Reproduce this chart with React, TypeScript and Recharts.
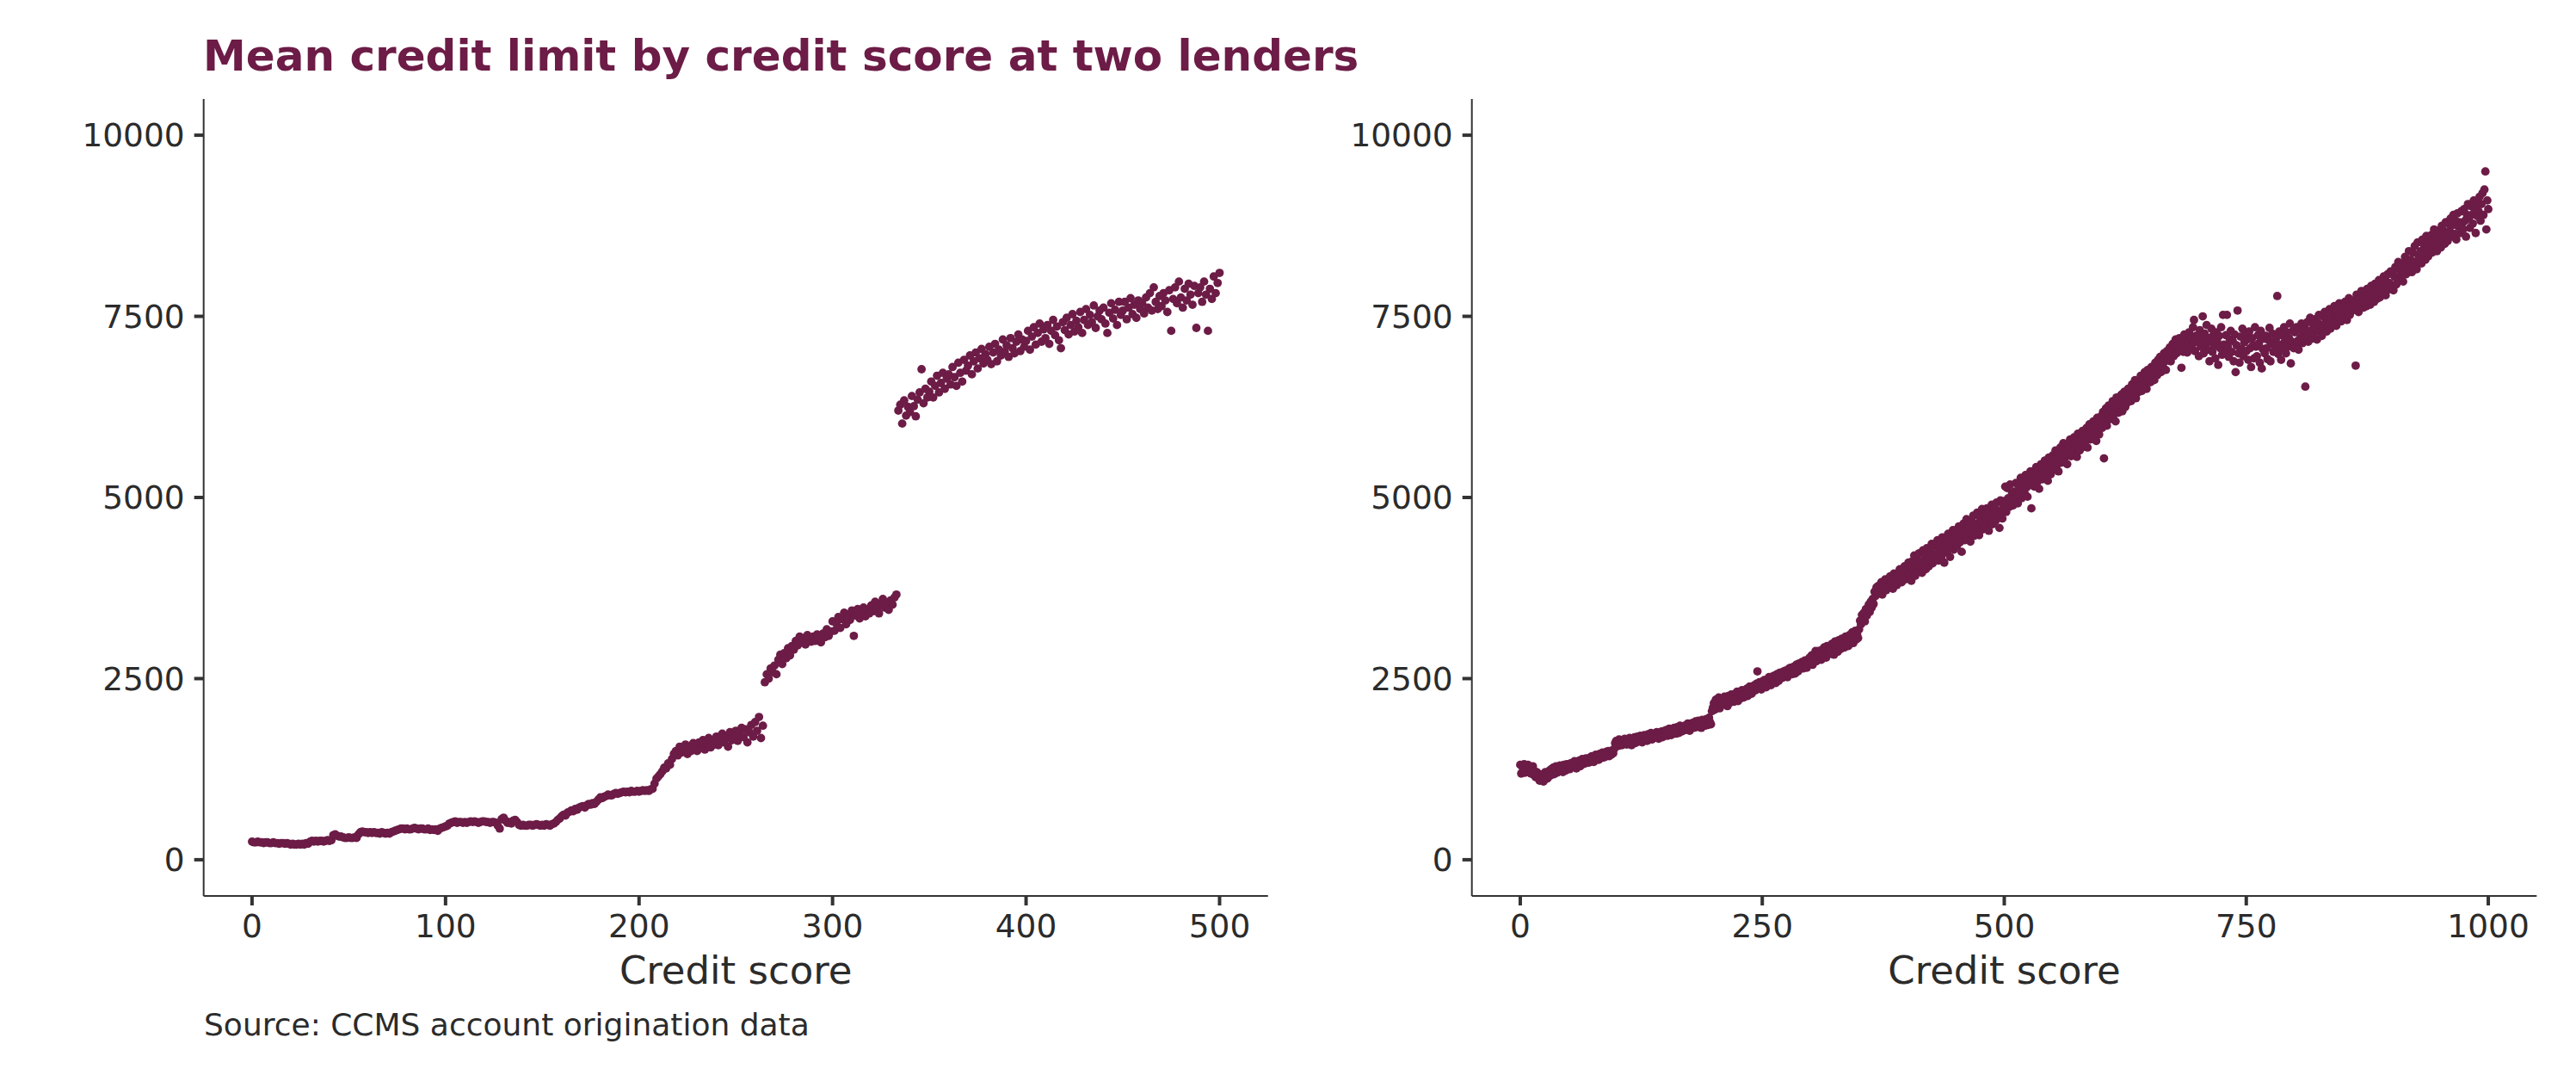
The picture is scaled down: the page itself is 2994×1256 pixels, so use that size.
import { ScatterChart, Scatter, XAxis, YAxis } from "recharts";

const DOT = "#6C1C46";
const INK = "#2b2b2b";
const LINE = "#333333";
const FONT = "'DejaVu Sans', Verdana, sans-serif";

const TITLE = "Mean credit limit by credit score at two lenders";
const AXIS_TITLE = "Credit score";
const CAPTION = "Source: CCMS account origination data";

const leftTicksX = [0, 100, 200, 300, 400, 500];
const rightTicksX = [0, 250, 500, 750, 1000];
const ticksY = [0, 2500, 5000, 7500, 10000];

// lender A: mean limit for scores 0..500, one value per score
const leftLimits000 = [
  250, 240, 240, 250, 240, 240, 230, 240, 240, 230,
  230, 240, 230, 230, 220, 230, 230, 220, 230, 220,
  210, 220, 210, 210, 220, 210, 220, 210, 230, 220,
  250, 260, 250, 260, 250, 260, 260, 250, 260, 270,
  260, 270, 340, 350, 330, 320, 320, 310, 300, 300,
  310, 300, 300, 310, 300, 350, 380, 390, 380, 380,
  370, 380, 370, 380, 370, 370, 360, 380, 370, 360,
  370, 360, 380, 390, 400, 410, 420, 430, 430, 420,
  430, 420, 420, 430, 440, 430, 420, 430, 430, 420,
  420, 430, 410, 420, 410, 420, 400, 430, 440, 450,
];
const leftLimits100 = [
  460, 470, 500, 510, 520, 530, 510, 520, 520, 510,
  520, 510, 520, 530, 520, 530, 520, 510, 520, 530,
  530, 520, 520, 510, 520, 520, 510, 470, 430, 560,
  580, 540, 510, 520, 500, 540, 550, 520, 480, 470,
  480, 470, 470, 480, 480, 470, 480, 490, 480, 470,
  480, 470, 490, 480, 470, 490, 500, 520, 550, 570,
  600, 620, 610, 650, 660, 680, 670, 700, 690, 720,
  730, 740, 720, 750, 770, 760, 780, 770, 800, 830,
  860, 850, 870, 880, 900, 890, 890, 910, 920, 910,
  920, 930, 940, 930, 940, 930, 950, 940, 940, 950,
];
const leftLimits200 = [
  940, 950, 960, 950, 960, 950, 970, 980, 1050, 1120,
  1150, 1180, 1220, 1270, 1260, 1330, 1310, 1390, 1460, 1500,
  1440, 1560, 1480, 1520, 1590, 1460, 1550, 1500, 1610, 1530,
  1500, 1620, 1560, 1650, 1520, 1600, 1680, 1550, 1640, 1590,
  1700, 1580, 1660, 1740, 1620, 1690, 1560, 1760, 1650, 1720,
  1780, 1640, 1740, 1820, 1690, 1800, 1620, 1760, 1860, 1700,
  1900, 1780, 1970, 1680, 1850, 2450, 2560, 2500, 2640, 2590,
  2680, 2560, 2760, 2830, 2700, 2850, 2780, 2920, 2820, 2950,
  2900, 3020, 2960, 3080, 3000, 3060, 2970, 3100, 3040, 3010,
  3080, 3020, 3110, 3050, 3000, 3120, 3070, 3180, 3090, 3150,
];
const leftLimits300 = [
  3290, 3160, 3260, 3350, 3200, 3320, 3410, 3250, 3380, 3310,
  3440, 3090, 3370, 3460, 3330, 3420, 3480, 3360, 3450, 3400,
  3510, 3430, 3560, 3470, 3400, 3540, 3600, 3480, 3530, 3450,
  3580, 3520, 3620, 3660, 6200, 6280, 6020, 6340, 6130, 6250,
  6180, 6400, 6260, 6120, 6350, 6450, 6770, 6300, 6500, 6380,
  6460, 6600, 6380, 6540, 6680, 6450, 6580, 6720, 6500, 6640,
  6700, 6560, 6800, 6660, 6540, 6860, 6720, 6600, 6900, 6750,
  6820, 6960, 6700, 6880, 7000, 6780, 6920, 7050, 6850, 6980,
  6900, 7080, 6840, 7000, 7120, 6880, 7040, 6960, 7180, 7010,
  7100, 6940, 7200, 7060, 6990, 7150, 7250, 7020, 7180, 7080,
];
const leftLimits400 = [
  7160, 7300, 7040, 7220, 7350, 7110, 7270, 7400, 7150, 7320,
  7200, 7380, 7120, 7300, 7450, 7240, 7360, 7170, 7060, 7420,
  7310, 7480, 7250, 7380, 7530, 7290, 7440, 7350, 7560, 7270,
  7450, 7600, 7380, 7520, 7420, 7650, 7340, 7500, 7580, 7460,
  7620, 7400, 7270, 7550, 7680, 7470, 7590, 7380, 7700, 7520,
  7580, 7700, 7460, 7620, 7750, 7530, 7660, 7480, 7720, 7600,
  7680, 7540, 7760, 7620, 7820, 7580, 7900, 7700, 7600, 7780,
  7640, 7820, 7720, 7560, 7860, 7300, 7740, 7900, 7680, 7980,
  7760, 7620, 7880, 7720, 7950, 7800, 7660, 7920, 7340, 7820,
  7900, 7700, 7980, 7800, 7300, 7880, 7740, 8050, 7820, 7960,
  8100,
];

// lender B: mean limit for scores 0..1000, one value per score
const rightLimits000 = [
  1310, 1190, 1290, 1250, 1320, 1200, 1300, 1260, 1310, 1220,
  1280, 1190, 1250, 1290, 1170, 1220, 1140, 1210, 1160, 1120,
  1090, 1180, 1110, 1170, 1080, 1140, 1210, 1170, 1120, 1200,
  1230, 1160, 1250, 1190, 1270, 1180, 1240, 1290, 1200, 1260,
  1220, 1300, 1240, 1280, 1210, 1310, 1260, 1230, 1320, 1280,
  1300, 1250, 1330, 1280, 1340, 1280, 1360, 1300, 1260, 1350,
  1320, 1370, 1290, 1350, 1390, 1320, 1380, 1330, 1400, 1360,
  1380, 1340, 1410, 1370, 1430, 1380, 1350, 1420, 1450, 1390,
  1420, 1380, 1460, 1400, 1450, 1480, 1410, 1470, 1420, 1490,
  1450, 1500, 1430, 1480, 1450, 1510, 1470, 1530, 1610, 1640,
];
const rightLimits100 = [
  1620, 1570, 1660, 1600, 1640, 1580, 1650, 1600, 1670, 1610,
  1590, 1660, 1610, 1680, 1620, 1580, 1670, 1630, 1690, 1610,
  1650, 1700, 1630, 1680, 1710, 1650, 1620, 1690, 1720, 1660,
  1690, 1640, 1730, 1670, 1710, 1750, 1660, 1720, 1680, 1740,
  1700, 1760, 1700, 1670, 1750, 1710, 1770, 1690, 1730, 1780,
  1740, 1790, 1710, 1760, 1810, 1740, 1720, 1800, 1760, 1820,
  1780, 1740, 1830, 1790, 1750, 1850, 1800, 1770, 1840, 1800,
  1850, 1790, 1840, 1880, 1810, 1780, 1870, 1830, 1890, 1820,
  1860, 1910, 1830, 1880, 1920, 1840, 1900, 1820, 1930, 1870,
  1900, 1850, 1940, 1880, 1860, 1960, 1900, 1870, 2050, 2100,
];
const rightLimits200 = [
  2160, 2070, 2210, 2110, 2190, 2240, 2090, 2180, 2220, 2140,
  2200, 2250, 2150, 2230, 2120, 2260, 2200, 2170, 2280, 2200,
  2250, 2180, 2290, 2220, 2320, 2190, 2270, 2310, 2230, 2340,
  2280, 2240, 2330, 2280, 2360, 2260, 2320, 2390, 2320, 2290,
  2380, 2330, 2410, 2340, 2430, 2600, 2370, 2450, 2400, 2350,
  2460, 2390, 2480, 2420, 2380, 2490, 2430, 2520, 2450, 2410,
  2510, 2460, 2540, 2480, 2440, 2560, 2500, 2470, 2580, 2520,
  2570, 2510, 2600, 2540, 2610, 2560, 2520, 2630, 2570, 2650,
  2610, 2560, 2660, 2610, 2570, 2690, 2630, 2600, 2710, 2650,
  2690, 2730, 2640, 2710, 2750, 2680, 2650, 2760, 2710, 2790,
];
const rightLimits300 = [
  2710, 2820, 2690, 2790, 2770, 2880, 2740, 2820, 2880, 2800,
  2870, 2760, 2900, 2810, 2930, 2830, 2790, 2950, 2880, 2840,
  2940, 2850, 2980, 2900, 2830, 3010, 2920, 2960, 2870, 3030,
  2990, 2910, 3050, 2960, 3020, 2930, 3080, 2990, 3060, 2950,
  3100, 3010, 3070, 3140, 2990, 3090, 3160, 3040, 3110, 3060,
  3180, 3300, 3250, 3380, 3320, 3410, 3290, 3460, 3370, 3440,
  3520, 3420, 3560, 3480, 3600, 3530, 3700, 3640, 3760, 3680,
  3780, 3690, 3740, 3830, 3660, 3800, 3750, 3870, 3720, 3810,
  3860, 3760, 3910, 3800, 3880, 3740, 3950, 3840, 3900, 3790,
  3940, 3850, 4010, 3900, 3830, 3980, 3920, 4050, 3870, 3990,
];
const rightLimits400 = [
  3880, 4100, 3940, 4030, 3850, 4120, 3990, 4200, 3920, 4060,
  4150, 3980, 4230, 4050, 4110, 3960, 4270, 4080, 4190, 4010,
  4300, 4120, 4050, 4250, 4180, 4360, 4090, 4220, 4330, 4150,
  4200, 4410, 4130, 4290, 4370, 4180, 4450, 4260, 4100, 4340,
  4420, 4240, 4500, 4310, 4180, 4460, 4390, 4550, 4280, 4400,
  4520, 4330, 4470, 4600, 4380, 4560, 4250, 4490, 4640, 4410,
  4560, 4700, 4430, 4620, 4510, 4390, 4680, 4580, 4750, 4470,
  4640, 4530, 4790, 4600, 4480, 4720, 4650, 4840, 4560, 4700,
  4770, 4610, 4850, 4690, 4540, 4800, 4720, 4900, 4630, 4780,
  4860, 4680, 4930, 4750, 4820, 4580, 4960, 4790, 4710, 4900,
];
const rightLimits500 = [
  4950, 5150, 4800, 5130, 4990, 4870, 5180, 4920, 5060, 4890,
  5080, 4970, 5200, 5030, 4920, 5160, 5090, 5270, 4990, 5130,
  5220, 5060, 5310, 5140, 5010, 5250, 5170, 5360, 4850, 5200,
  5330, 5150, 5270, 5420, 5210, 5380, 5120, 5300, 5460, 5250,
  5390, 5280, 5510, 5340, 5450, 5230, 5550, 5400, 5320, 5490,
  5580, 5380, 5520, 5650, 5440, 5600, 5360, 5540, 5690, 5480,
  5620, 5750, 5530, 5680, 5590, 5460, 5720, 5640, 5800, 5570,
  5710, 5600, 5830, 5680, 5760, 5560, 5880, 5730, 5650, 5820,
  5790, 5920, 5700, 5850, 5780, 5960, 5690, 5880, 6010, 5800,
  5930, 5840, 6050, 5880, 5990, 5780, 6100, 5960, 5870, 6060,
];
const rightLimits600 = [
  6120, 5960, 6180, 5540, 6060, 6230, 5990, 6150, 6270, 6080,
  6200, 6090, 6330, 6140, 6260, 6050, 6380, 6230, 6170, 6350,
  6280, 6420, 6190, 6340, 6460, 6250, 6390, 6310, 6500, 6360,
  6440, 6330, 6560, 6400, 6480, 6620, 6370, 6530, 6450, 6600,
  6540, 6680, 6470, 6620, 6550, 6730, 6600, 6500, 6760, 6650,
  6700, 6590, 6800, 6680, 6740, 6620, 6860, 6770, 6690, 6900,
  6810, 6940, 6730, 6870, 6800, 6990, 6880, 6760, 7020, 6920,
  6960, 7070, 6880, 7010, 7120, 6950, 7050, 7180, 6990, 7100,
  7040, 7200, 7080, 6790, 7150, 7010, 7250, 7090, 7170, 7000,
  7130, 7280, 7060, 7200, 7100, 7350, 7450, 7020, 7230, 7150,
];
const rightLimits700 = [
  7220, 6950, 7310, 7080, 7180, 7500, 6990, 7260, 7120, 7380,
  7040, 7200, 6880, 7150, 7330, 7010, 7240, 7090, 6920, 7280,
  7150, 6830, 7230, 7060, 7350, 6970, 7520, 7110, 7000, 7240,
  7520, 7080, 6940, 7180, 7300, 7010, 7160, 6880, 7250, 6730,
  7100, 7580, 6990, 6860, 7220, 7050, 7330, 6950, 7140, 7260,
  7020, 7180, 6900, 7290, 7060, 6800, 7200, 7100, 6920, 7350,
  7080, 6950, 7240, 7130, 6860, 7300, 6780, 7050, 7190, 6990,
  7230, 7060, 6910, 7170, 7340, 6880, 7120, 7260, 7010, 7150,
  7050, 7200, 7780, 6980, 7290, 7110, 6900, 7240, 7060, 7350,
  7160, 6990, 7280, 7080, 7200, 7400, 6850, 7150, 7300, 7060,
];
const rightLimits800 = [
  7280, 7100, 7350, 7160, 7040, 7320, 7210, 7400, 7130, 7270,
  7360, 6530, 7220, 7420, 7150, 7300, 7480, 7240, 7190, 7390,
  7270, 7460, 7330, 7180, 7410, 7520, 7290, 7380, 7230, 7500,
  7350, 7560, 7420, 7290, 7480, 7380, 7600, 7330, 7470, 7550,
  7410, 7640, 7500, 7370, 7580, 7450, 7680, 7520, 7430, 7620,
  7560, 7480, 7700, 7590, 7450, 7660, 7750, 7520, 7640, 7580,
  7720, 7590, 7680, 6820, 7800, 7630, 7560, 7740, 7670, 7850,
  7700, 7620, 7820, 7750, 7640, 7880, 7710, 7800, 7660, 7920,
  7780, 7860, 7700, 7950, 7820, 7740, 7900, 8000, 7760, 7880,
  7950, 7830, 8050, 7900, 7790, 7980, 8080, 7870, 7960, 8120,
];
const rightLimits900 = [
  7900, 8100, 7860, 8050, 8180, 7940, 8020, 8250, 7990, 8130,
  8060, 8230, 7980, 8170, 8320, 8080, 8250, 8130, 8400, 8190,
  8280, 8110, 8380, 8200, 8470, 8250, 8150, 8520, 8330, 8240,
  8400, 8230, 8560, 8350, 8470, 8280, 8610, 8420, 8330, 8550,
  8480, 8620, 8380, 8540, 8700, 8450, 8580, 8400, 8680, 8520,
  8600, 8450, 8750, 8560, 8680, 8500, 8800, 8620, 8540, 8780,
  8680, 8850, 8600, 8760, 8900, 8640, 8820, 8560, 8920, 8740,
  8800, 8650, 8950, 8780, 8700, 8980, 8820, 8600, 8900, 9050,
  8860, 8720, 9020, 8900, 8780, 9100, 8950, 8650, 9050, 8880,
  8950, 9150, 8820, 9050, 9200, 8900, 9250, 9500, 8700, 9100,
  8980,
];

const leftData = [
  ...leftLimits000,
  ...leftLimits100,
  ...leftLimits200,
  ...leftLimits300,
  ...leftLimits400,
].map((limit, score) => ({ score, limit }));

const rightData = [
  ...rightLimits000,
  ...rightLimits100,
  ...rightLimits200,
  ...rightLimits300,
  ...rightLimits400,
  ...rightLimits500,
  ...rightLimits600,
  ...rightLimits700,
  ...rightLimits800,
  ...rightLimits900,
].map((limit, score) => ({ score, limit }));

const tickStyle = { fontSize: 37.5, fill: INK, fontFamily: FONT };
const tickLine = { stroke: LINE, strokeWidth: 4 };
const axisLine = { stroke: LINE, strokeWidth: 2 };

const dot = (props: any) => (
  <circle cx={props.cx} cy={props.cy} r={4.9} fill={DOT} />
);

interface PanelProps {
  data: { score: number; limit: number }[];
  left: number;
  width: number;
  rightMargin: number;
  xDomain: [number, number];
  xTicks: number[];
}

function Panel({ data, left, width, rightMargin, xDomain, xTicks }: PanelProps) {
  return (
    <div style={{ position: "absolute", left, top: 0 }}>
      <ScatterChart
        width={width}
        height={1256}
        margin={{ top: 115, right: rightMargin, bottom: 0, left: 0 }}
      >
        <XAxis
          type="number"
          dataKey="score"
          domain={xDomain}
          ticks={xTicks}
          allowDataOverflow
          height={215}
          tick={tickStyle}
          tickLine={tickLine}
          axisLine={axisLine}
          tickSize={11}
          tickMargin={10}
        />
        <YAxis
          type="number"
          dataKey="limit"
          domain={[-500, 10500]}
          ticks={ticksY}
          allowDataOverflow
          width={236.7}
          tick={tickStyle}
          tickLine={tickLine}
          axisLine={axisLine}
          tickSize={11}
          tickMargin={11}
        />
        <Scatter data={data} fill={DOT} shape={dot} isAnimationActive={false} />
      </ScatterChart>
    </div>
  );
}

export default function App() {
  return (
    <div
      style={{
        position: "absolute",
        left: 0,
        top: 0,
        width: 2994,
        height: 1256,
        background: "#ffffff",
        fontFamily: FONT,
      }}
    >
      <Panel
        data={leftData}
        left={0}
        width={1500}
        rightMargin={26.3}
        xDomain={[-25, 525]}
        xTicks={leftTicksX}
      />
      <Panel
        data={rightData}
        left={1474}
        width={1520}
        rightMargin={45.7}
        xDomain={[-50, 1050]}
        xTicks={rightTicksX}
      />
      <svg
        width={2994}
        height={1256}
        style={{ position: "absolute", left: 0, top: 0, pointerEvents: "none" }}
      >
        <text x={236} y={81.7} fontFamily={FONT} fontSize={50} fontWeight="bold" fill={DOT}>
          {TITLE}
        </text>
        <text x={855.2} y={1143} textAnchor="middle" fontFamily={FONT} fontSize={45} fill={INK}>
          {AXIS_TITLE}
        </text>
        <text x={2329.5} y={1143} textAnchor="middle" fontFamily={FONT} fontSize={45} fill={INK}>
          {AXIS_TITLE}
        </text>
        <text x={237} y={1203} fontFamily={FONT} fontSize={36} fill={INK}>
          {CAPTION}
        </text>
      </svg>
    </div>
  );
}
